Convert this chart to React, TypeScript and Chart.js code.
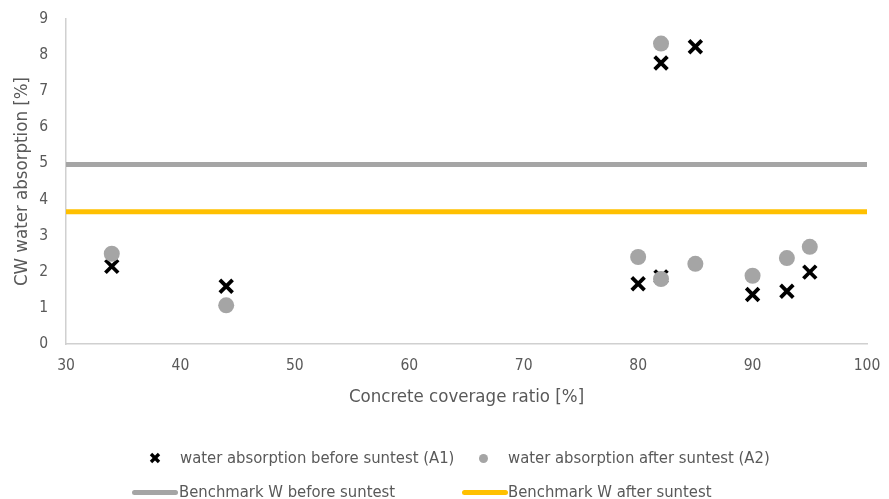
import React, { useEffect, useRef } from "react";
import { Chart, registerables } from "chart.js";

Chart.register(...registerables);

// ---- data ----
const coverageA1 = [34, 44, 80, 82, 82, 85, 90, 93, 95];
const absorptionA1 = [2.15, 1.6, 1.67, 7.78, 1.86, 8.23, 1.37, 1.46, 1.99];
const coverageA2 = [34, 44, 80, 82, 82, 85, 90, 93, 95];
const absorptionA2 = [2.5, 1.07, 2.41, 8.32, 1.8, 2.22, 1.89, 2.38, 2.69];
const benchmarkX = [30, 100];
const benchmarkBefore = [4.97, 4.97];
const benchmarkAfter = [3.66, 3.66];
const xMin = 30;
const xMax = 100;
const yMin = 0;
const yMax = 9;

const labelA1 = "water absorption before suntest (A1)";
const labelA2 = "water absorption after suntest (A2)";
const labelB1 = "Benchmark W before suntest";
const labelB2 = "Benchmark W after suntest";

const FONT = "'Liberation Sans Narrow', 'DejaVu Sans Condensed', Roboto, sans-serif";
const TEXT = "#595959";
const GRAY = "#a5a5a5";
const YELLOW = "#ffc000";
const AXIS = "#d0d0d0";

const toXY = (xs: number[], ys: number[]) => xs.map((x, i) => ({ x, y: ys[i] }));

export default function App() {
  const ref = useRef<HTMLCanvasElement | null>(null);

  useEffect(() => {
    if (!ref.current) return;
    const chart = new Chart(ref.current, {
      type: "scatter",
      data: {
        datasets: [
          {
            label: labelA2,
            data: toXY(coverageA2, absorptionA2),
            pointStyle: "circle",
            pointRadius: 8,
            pointBackgroundColor: GRAY,
            pointBorderColor: GRAY,
            pointBorderWidth: 0,
            order: 0,
          },
          {
            label: labelA1,
            data: toXY(coverageA1, absorptionA1),
            pointStyle: "crossRot",
            pointRadius: 9,
            pointBorderColor: "#000000",
            pointBackgroundColor: "#000000",
            pointBorderWidth: 3.8,
            order: 1,
          },
          {
            type: "line",
            label: labelB1,
            data: toXY(benchmarkX, benchmarkBefore),
            borderColor: GRAY,
            borderWidth: 5,
            pointRadius: 0,
            showLine: true,
            order: 2,
          },
          {
            type: "line",
            label: labelB2,
            data: toXY(benchmarkX, benchmarkAfter),
            borderColor: YELLOW,
            borderWidth: 5,
            pointRadius: 0,
            showLine: true,
            order: 2,
          },
        ],
      },
      options: {
        animation: false,
        responsive: true,
        maintainAspectRatio: false,
        layout: { padding: { left: 0, top: 19, right: 22, bottom: 85 } },
        plugins: {
          legend: { display: false },
          tooltip: { enabled: false },
        },
        scales: {
          x: {
            type: "linear",
            min: xMin,
            max: xMax,
            grid: { display: false, drawTicks: false },
            border: { display: true, color: AXIS, width: 1.5 },
            ticks: {
              stepSize: 10,
              color: TEXT,
              font: { family: FONT, size: 15.5 },
              padding: 13,
            },
            title: {
              display: true,
              text: "Concrete coverage ratio [%]",
              color: TEXT,
              font: { family: FONT, size: 18.5 },
              padding: { top: 0, bottom: 6 },
            },
            afterFit: (s: any) => {
              s.height = 70;
              s.paddingLeft = 0;
              s.paddingRight = 0;
            },
          },
          y: {
            type: "linear",
            min: yMin,
            max: yMax,
            grid: { display: false, drawTicks: false },
            border: { display: true, color: AXIS, width: 1.5 },
            ticks: {
              stepSize: 1,
              color: TEXT,
              font: { family: FONT, size: 15.5 },
              padding: 18,
            },
            title: {
              display: true,
              text: "CW water absorption [%]",
              color: TEXT,
              font: { family: FONT, size: 18.5 },
              padding: { top: 11, bottom: 0 },
            },
            afterFit: (s: any) => {
              s.width = 66;
              s.paddingTop = 0;
              s.paddingBottom = 0;
            },
          },
        },
      },
    });
    return () => chart.destroy();
  }, []);

  const textStyle: React.CSSProperties = {
    position: "absolute",
    fontFamily: FONT,
    fontSize: 16.5,
    color: TEXT,
    lineHeight: "20px",
    whiteSpace: "nowrap",
    transform: "translateY(-50%)",
  };

  return (
    <div
      style={{
        position: "fixed",
        left: 0,
        top: 0,
        width: 889,
        height: 499,
        background: "#ffffff",
        overflow: "hidden",
      }}
    >
      <canvas ref={ref} style={{ position: "absolute", left: 0, top: 0, width: 889, height: 499 }} />
      {/* legend row 1 */}
      <svg
        width="12"
        height="12"
        style={{ position: "absolute", left: 149, top: 452 }}
      >
        <line x1="2" y1="2" x2="10" y2="10" stroke="#000" strokeWidth="3.4" />
        <line x1="10" y1="2" x2="2" y2="10" stroke="#000" strokeWidth="3.4" />
      </svg>
      <span style={{ ...textStyle, left: 180, top: 458 }}>{labelA1}</span>
      <div
        style={{
          position: "absolute",
          left: 478.5,
          top: 453.5,
          width: 9,
          height: 9,
          borderRadius: "50%",
          background: GRAY,
        }}
      />
      <span style={{ ...textStyle, left: 508, top: 458 }}>{labelA2}</span>
      {/* legend row 2 */}
      <div
        style={{
          position: "absolute",
          left: 132,
          top: 489.5,
          width: 46,
          height: 5,
          borderRadius: 2.5,
          background: GRAY,
        }}
      />
      <span style={{ ...textStyle, left: 179, top: 492 }}>{labelB1}</span>
      <div
        style={{
          position: "absolute",
          left: 462,
          top: 489.5,
          width: 46,
          height: 5,
          borderRadius: 2.5,
          background: YELLOW,
        }}
      />
      <span style={{ ...textStyle, left: 508, top: 492 }}>{labelB2}</span>
    </div>
  );
}
